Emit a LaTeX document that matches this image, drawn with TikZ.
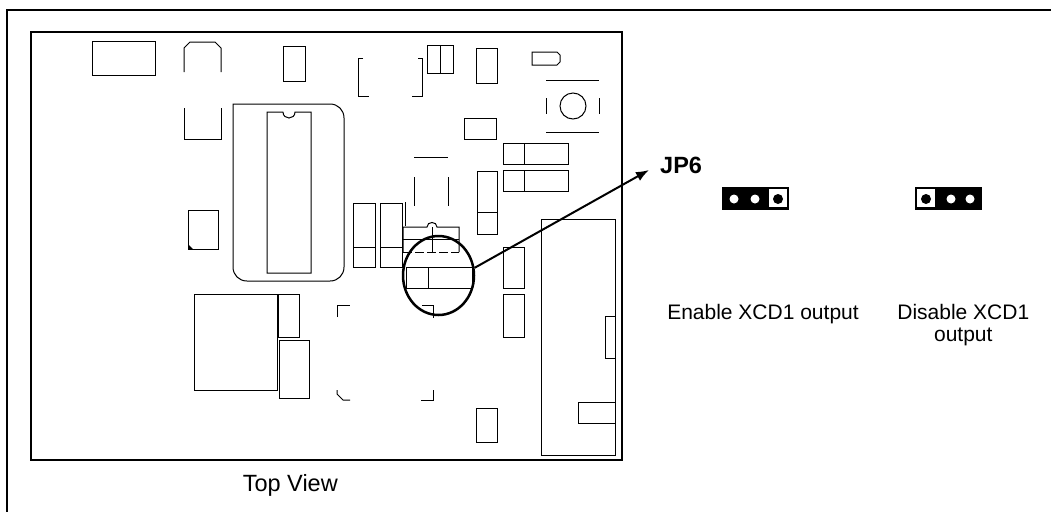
\documentclass[tikz,border=0pt]{standalone}
\usepackage{fontspec}
\setmainfont{Liberation Sans}
\usetikzlibrary{arrows.meta,shapes.geometric}
\tikzset{
  part/.style={line width=1pt},
  board/.style={line width=1.3pt},
  frame/.style={line width=2.4pt},
  txt/.style={inner sep=0pt,font=\fontsize{21}{22.7}\selectfont},
  bigtxt/.style={inner sep=0pt,font=\fontsize{23.5}{26}\selectfont},
  pin/.style={fill=white},
}
\begin{document}
\begin{tikzpicture}[x=1pt,y=-1pt]
\useasboundingbox (0,0) rectangle (1051,512);
\draw[frame] (1051,10) -- (7,10) -- (7,512); % khung ngoai
\draw[board] (31,32) rectangle (622,460); % bo mach
% linh kien ben trai
\draw[part] (92,41) rectangle (155,75);
\draw[part] (184,72) -- (184,48) -- (190,42) -- (215,42) -- (221,48) -- (221,72);
\draw[part] (184,108) -- (184,139) -- (221,139) -- (221,108);
\draw[part] (283,46) rectangle (305,81);
\draw[part] (233,118) -- (233,104) -- (330,104) .. controls (338,104) and (344,110) .. (344,118)
  -- (344,267) .. controls (344,275) and (338,281) .. (330,281) -- (247,281)
  .. controls (239,281) and (233,275) .. (233,267) -- cycle; % de IC
\draw[part] (283,112) -- (267,112) -- (267,273) -- (311,273) -- (311,112) -- (295,112)
  .. controls (295,120) and (283,120) .. (283,112); % IC
\draw[part] (188,210) rectangle (218,249);
\fill (188,249) -- (188,244) -- (193,249) -- cycle;
\draw[part] (194,294) rectangle (277,390);
\draw[part] (278,294) rectangle (299,337);
\draw[part] (279,340) rectangle (309,398);
% goc vuong
\draw[part] (337,317) -- (337,305) -- (350,305);
\draw[part] (422,305) -- (433,305) -- (433,318);
\draw[part] (337,390) -- (337,394) -- (343,400) -- (350,400);
\draw[part] (421,400) -- (433,400) -- (433,390);
% linh kien o giua
\draw[part] (363,58) -- (358,58) -- (358,96) -- (369,96);
\draw[part] (418,58) -- (422,58) -- (422,96) -- (412,96);
\draw[part] (427,45) rectangle (453,73);
\draw[part] (440,45) -- (440,73);
\draw[part] (476,48) rectangle (497,83);
\draw[part] (532,52) -- (557,52) -- (560,55) -- (560,62) -- (557,65) -- (532,65) -- cycle;
\draw[part] (546,80) -- (599,80) (546,132) -- (599,132)
  (546,98) -- (546,114) (599,98) -- (599,114); % nut nhan
\draw[part] (573,106) circle (13);
\draw[part] (464,118) rectangle (496,139);
\draw[part] (503,143) rectangle (568,164);
\draw[part] (524,143) -- (524,164);
\draw[part] (503,170) rectangle (568,191);
\draw[part] (524,170) -- (524,191);
\draw[part] (477,171) rectangle (497,234);
\draw[part] (477,212) -- (497,212);
\draw[part] (414,157) -- (448,157) (414,177) -- (414,206) (448,177) -- (448,206);
\draw[part] (353,203) rectangle (375,267);
\draw[part] (353,247) -- (375,247);
\draw[part] (380,203) rectangle (402,267);
\draw[part] (380,247) -- (402,247);
\draw[part] (405,202) -- (405,226);
\draw[part] (403,252) -- (403,227) -- (427,227) .. controls (427,221) and (437,221) .. (437,227)
  -- (459,227) -- (459,252);
\draw[part] (403,239) -- (459,239) (432,227) -- (432,252);
\draw[part,dash pattern=on 9pt off 3pt] (403,252) -- (459,252);
\draw[part] (406,267) rectangle (472,288); % JP6
\draw[part] (428,267) -- (428,288);
\draw[part] (503,247) rectangle (524,288);
\draw[part] (503,294) rectangle (524,337);
\draw[part] (476,408) rectangle (497,442);
% dau noi ben phai
\draw[part] (541,219) rectangle (615,455);
\draw[part] (605,316) rectangle (615,358);
\draw[part] (578,402) rectangle (615,423);
% vong tron va mui ten
\node[ellipse,draw,line width=2.5pt,minimum width=71pt,minimum height=79pt,inner sep=0pt] (jpcircle) at (438.5,275.5) {};
\coordinate (jp6tip) at (649,170);
\draw[line width=2pt,-{Latex[length=13pt,width=10pt]}] (jpcircle.12) -- (jp6tip);
\node[bigtxt,font=\fontsize{23.5}{26}\selectfont\bfseries,anchor=base west] (jp6) at (660,173) {JP6};
\node[bigtxt,anchor=base] (topview) at (290.3,491.7) {Top View};
% jumper
\fill (722,187) rectangle (789,210);
\fill[pin] (734,199) circle (4.5) (755,199) circle (4.5);
\fill[white] (769,189) rectangle (787,207);
\fill (778,199) circle (5);
\fill (915,187) rectangle (982,210);
\fill[white] (917,189) rectangle (935,207);
\fill (926,199) circle (5);
\fill[pin] (951,199) circle (4.5) (970,199) circle (4.5);
\node[txt,anchor=base] (enable) at (763,319) {Enable XCD1 output};
\node[txt,anchor=base,align=center] (disable) at (963.3,341.7) {Disable XCD1\\output};
\end{tikzpicture}
\end{document}
